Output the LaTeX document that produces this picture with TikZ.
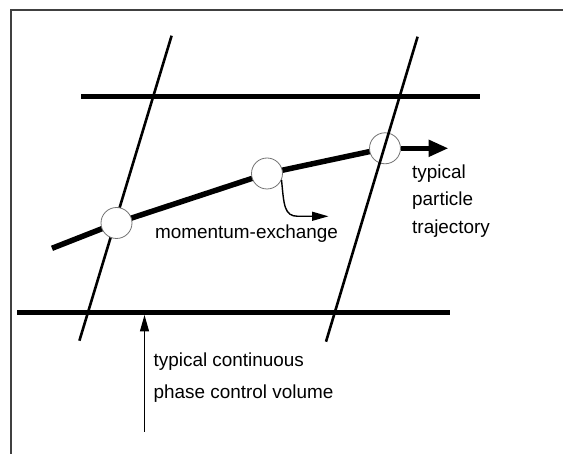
\documentclass[tikz,border=0pt]{standalone}
\usepackage{fontspec}
\setmainfont{Liberation Sans}
\usetikzlibrary{arrows.meta, positioning}

\begin{document}
\begin{tikzpicture}[
    x=1pt, y=-1pt,
    frameLine/.style={draw=black!75, line width=1.5pt},
    faceLine/.style={line width=5pt},
    slantLine/.style={line width=2.6pt},
    pathLine/.style={line width=5.5pt, line join=round},
    partCircle/.style={circle, draw=black!55, line width=0.8pt, fill=white, minimum size=31pt, inner sep=0pt},
    lbl/.style={anchor=base west, inner sep=0pt, font=\fontsize{18.9}{22}\selectfont},
    thinArrow/.style={line width=1.4pt, -{Triangle[length=16.5pt, width=9pt]}},
    thickArrow/.style={line width=5.5pt, -{Triangle[length=20pt, width=16pt]}}
]
\useasboundingbox (0,0) rectangle (563,454);

% Frame (top and left edges)
\coordinate (frameTL) at (11,10);
\coordinate (frameTR) at (563,10);
\coordinate (frameBL) at (11,454);
\draw[frameLine] (frameBL) -- (frameTL) -- (frameTR);

% Control volume faces
\coordinate (topL) at (81,97);
\coordinate (topR) at (479.5,97);
\coordinate (botL) at (17,312.3);
\coordinate (botR) at (449.6,312.3);
\coordinate (leftT) at (171.6,35.7);
\coordinate (leftB) at (79.4,340.7);
\coordinate (rightT) at (417.6,36.7);
\coordinate (rightB) at (326,341.7);

% Particle trajectory
\coordinate (trajStart) at (52,248.3);
\coordinate (trajTip) at (448.5,148.3);
\draw[pathLine] (trajStart) -- (116.5,223) -- (267,173.5) -- (385,148.3);

\draw[faceLine] (topL) -- (topR);
\draw[faceLine] (botL) -- (botR);
\draw[slantLine] (leftT) -- (leftB);

% Particles
\node[partCircle] (p1) at (116.5,223) {};
\node[partCircle] (p2) at (267,173.5) {};
\node[partCircle] (p3) at (385,148.3) {};

\draw[slantLine] (rightT) -- (rightB);
\draw[thickArrow] (p3.east) -- (trajTip);

% Momentum exchange
\coordinate (mxTip) at (328.5,216.3);
\draw[thinArrow] (p2.-24) .. controls (284,205) and (284,216.3) .. (298,216.3) -- (mxTip);

% Continuous phase control volume
\coordinate (cvBase) at (144.5,432);
\coordinate (cvTip) at (144.5,315);
\draw[thinArrow] (cvBase) -- (cvTip);

% Labels
\node[lbl] (mxLbl) at (155,239) {momentum-exchange};
\node[lbl] (trajLbl1) at (412,179) {typical};
\node[lbl] (trajLbl2) at (412,206) {particle};
\node[lbl] (trajLbl3) at (412,234) {trajectory};
\node[lbl] (cvLbl1) at (153.5,366.7) {typical continuous};
\node[lbl] (cvLbl2) at (153.5,398.3) {phase control volume};

\end{tikzpicture}
\end{document}
